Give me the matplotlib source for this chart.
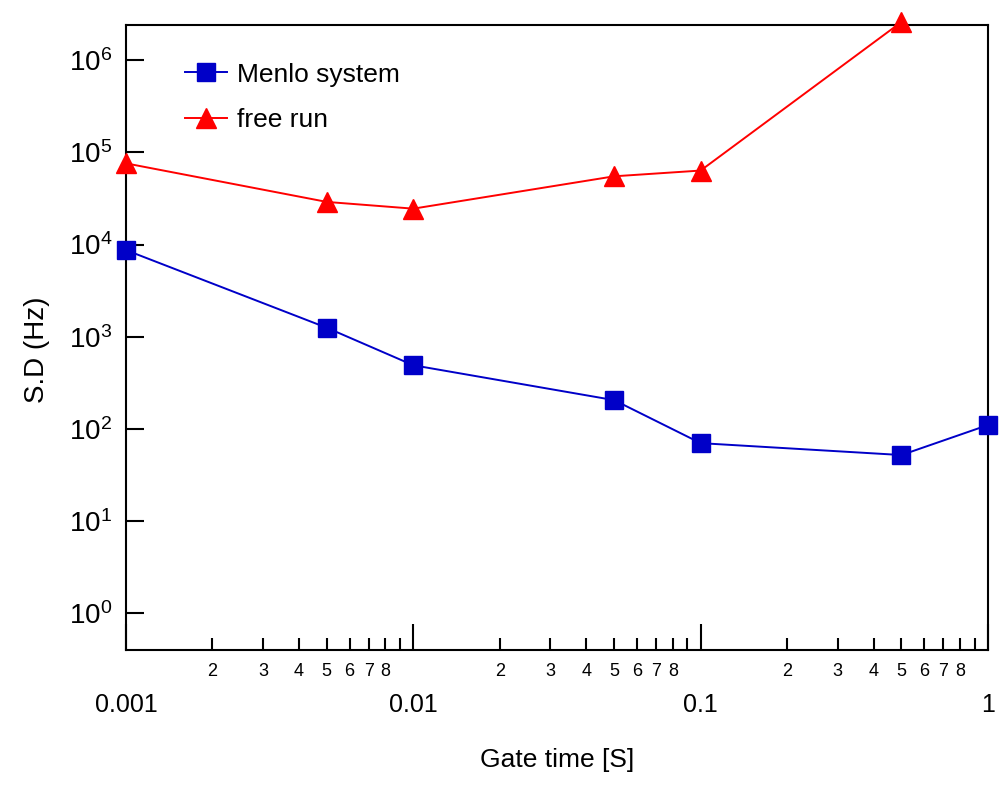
import numpy as np
import matplotlib
matplotlib.use('Agg')
import matplotlib.pyplot as plt
from matplotlib.ticker import FixedLocator, FixedFormatter, NullLocator

# gate time (s) and standard deviation (Hz)
gate_time = [0.001, 0.005, 0.01, 0.05, 0.1, 0.5, 1.0]
menlo_sd = [8700, 1250, 490, 205, 70, 52, 110]

free_gate_time = [0.001, 0.005, 0.01, 0.05, 0.1, 0.5]
free_run_sd = [76000, 29000, 24500, 55000, 63500, 2.6e6]

y_major = [1e0, 1e1, 1e2, 1e3, 1e4, 1e5, 1e6]
x_major = [0.001, 0.01, 0.1, 1]
x_major_labels = ['0.001', '0.01', '0.1', '1']

plt.rcParams['font.family'] = ['Liberation Sans', 'DejaVu Sans']
plt.rcParams['mathtext.fontset'] = 'custom'
plt.rcParams['mathtext.rm'] = 'Liberation Sans'
plt.rcParams['mathtext.it'] = 'Liberation Sans'

fig = plt.figure(figsize=(10.03, 7.87), dpi=100)
ax = fig.add_axes([0.1256, 0.174, 0.8594, 0.794])

ax.plot(gate_time, menlo_sd, '-s', color='#0000C8', lw=1.4, ms=13,
        label='Menlo system', clip_on=False, zorder=3)
ax.plot(free_gate_time, free_run_sd, '-^', color='#FF0000', lw=1.4, ms=14,
        label='free run', clip_on=False, zorder=3)

ax.set_xscale('log')
ax.set_yscale('log')
ax.set_xlim(0.001, 1)
ax.set_ylim(10**-0.4, 10**6.38)

# x ticks: decades plus labelled 2..8 minors
ax.xaxis.set_major_locator(FixedLocator(x_major))
ax.xaxis.set_major_formatter(FixedFormatter(x_major_labels))
minor_pos = []
minor_lab = []
for dec in [0.001, 0.01, 0.1]:
    for m in range(2, 10):
        minor_pos.append(dec * m)
        minor_lab.append(str(m) if m < 9 else '')
ax.xaxis.set_minor_locator(FixedLocator(minor_pos))
ax.xaxis.set_minor_formatter(FixedFormatter(minor_lab))
ax.tick_params(axis='x', which='major', direction='in', length=19, width=1.5,
               pad=31, labelsize=18)
ax.tick_params(axis='x', which='minor', direction='in', length=9, width=1.5,
               pad=9, labelsize=13)

# y ticks
ax.yaxis.set_major_locator(FixedLocator(y_major))
ax.set_yticklabels([f'$10^{{{i}}}$' for i in range(7)])
ax.yaxis.set_minor_locator(NullLocator())
ax.tick_params(axis='y', which='major', direction='in', length=13, width=1.5,
               pad=10, labelsize=20)

for sp in ax.spines.values():
    sp.set_linewidth(1.5)

ax.set_xlabel('Gate time [S]', fontsize=19, labelpad=22)
ax.set_ylabel('S.D (Hz)', fontsize=20)
ax.yaxis.set_label_coords(-0.088, 0.48)

ax.legend(loc='upper left', bbox_to_anchor=(0.068, 0.94), frameon=False,
          fontsize=19, handlelength=1.6, handletextpad=0.4, labelspacing=0.8,
          borderpad=0, borderaxespad=0)

fig.savefig('out.png', dpi=100)
